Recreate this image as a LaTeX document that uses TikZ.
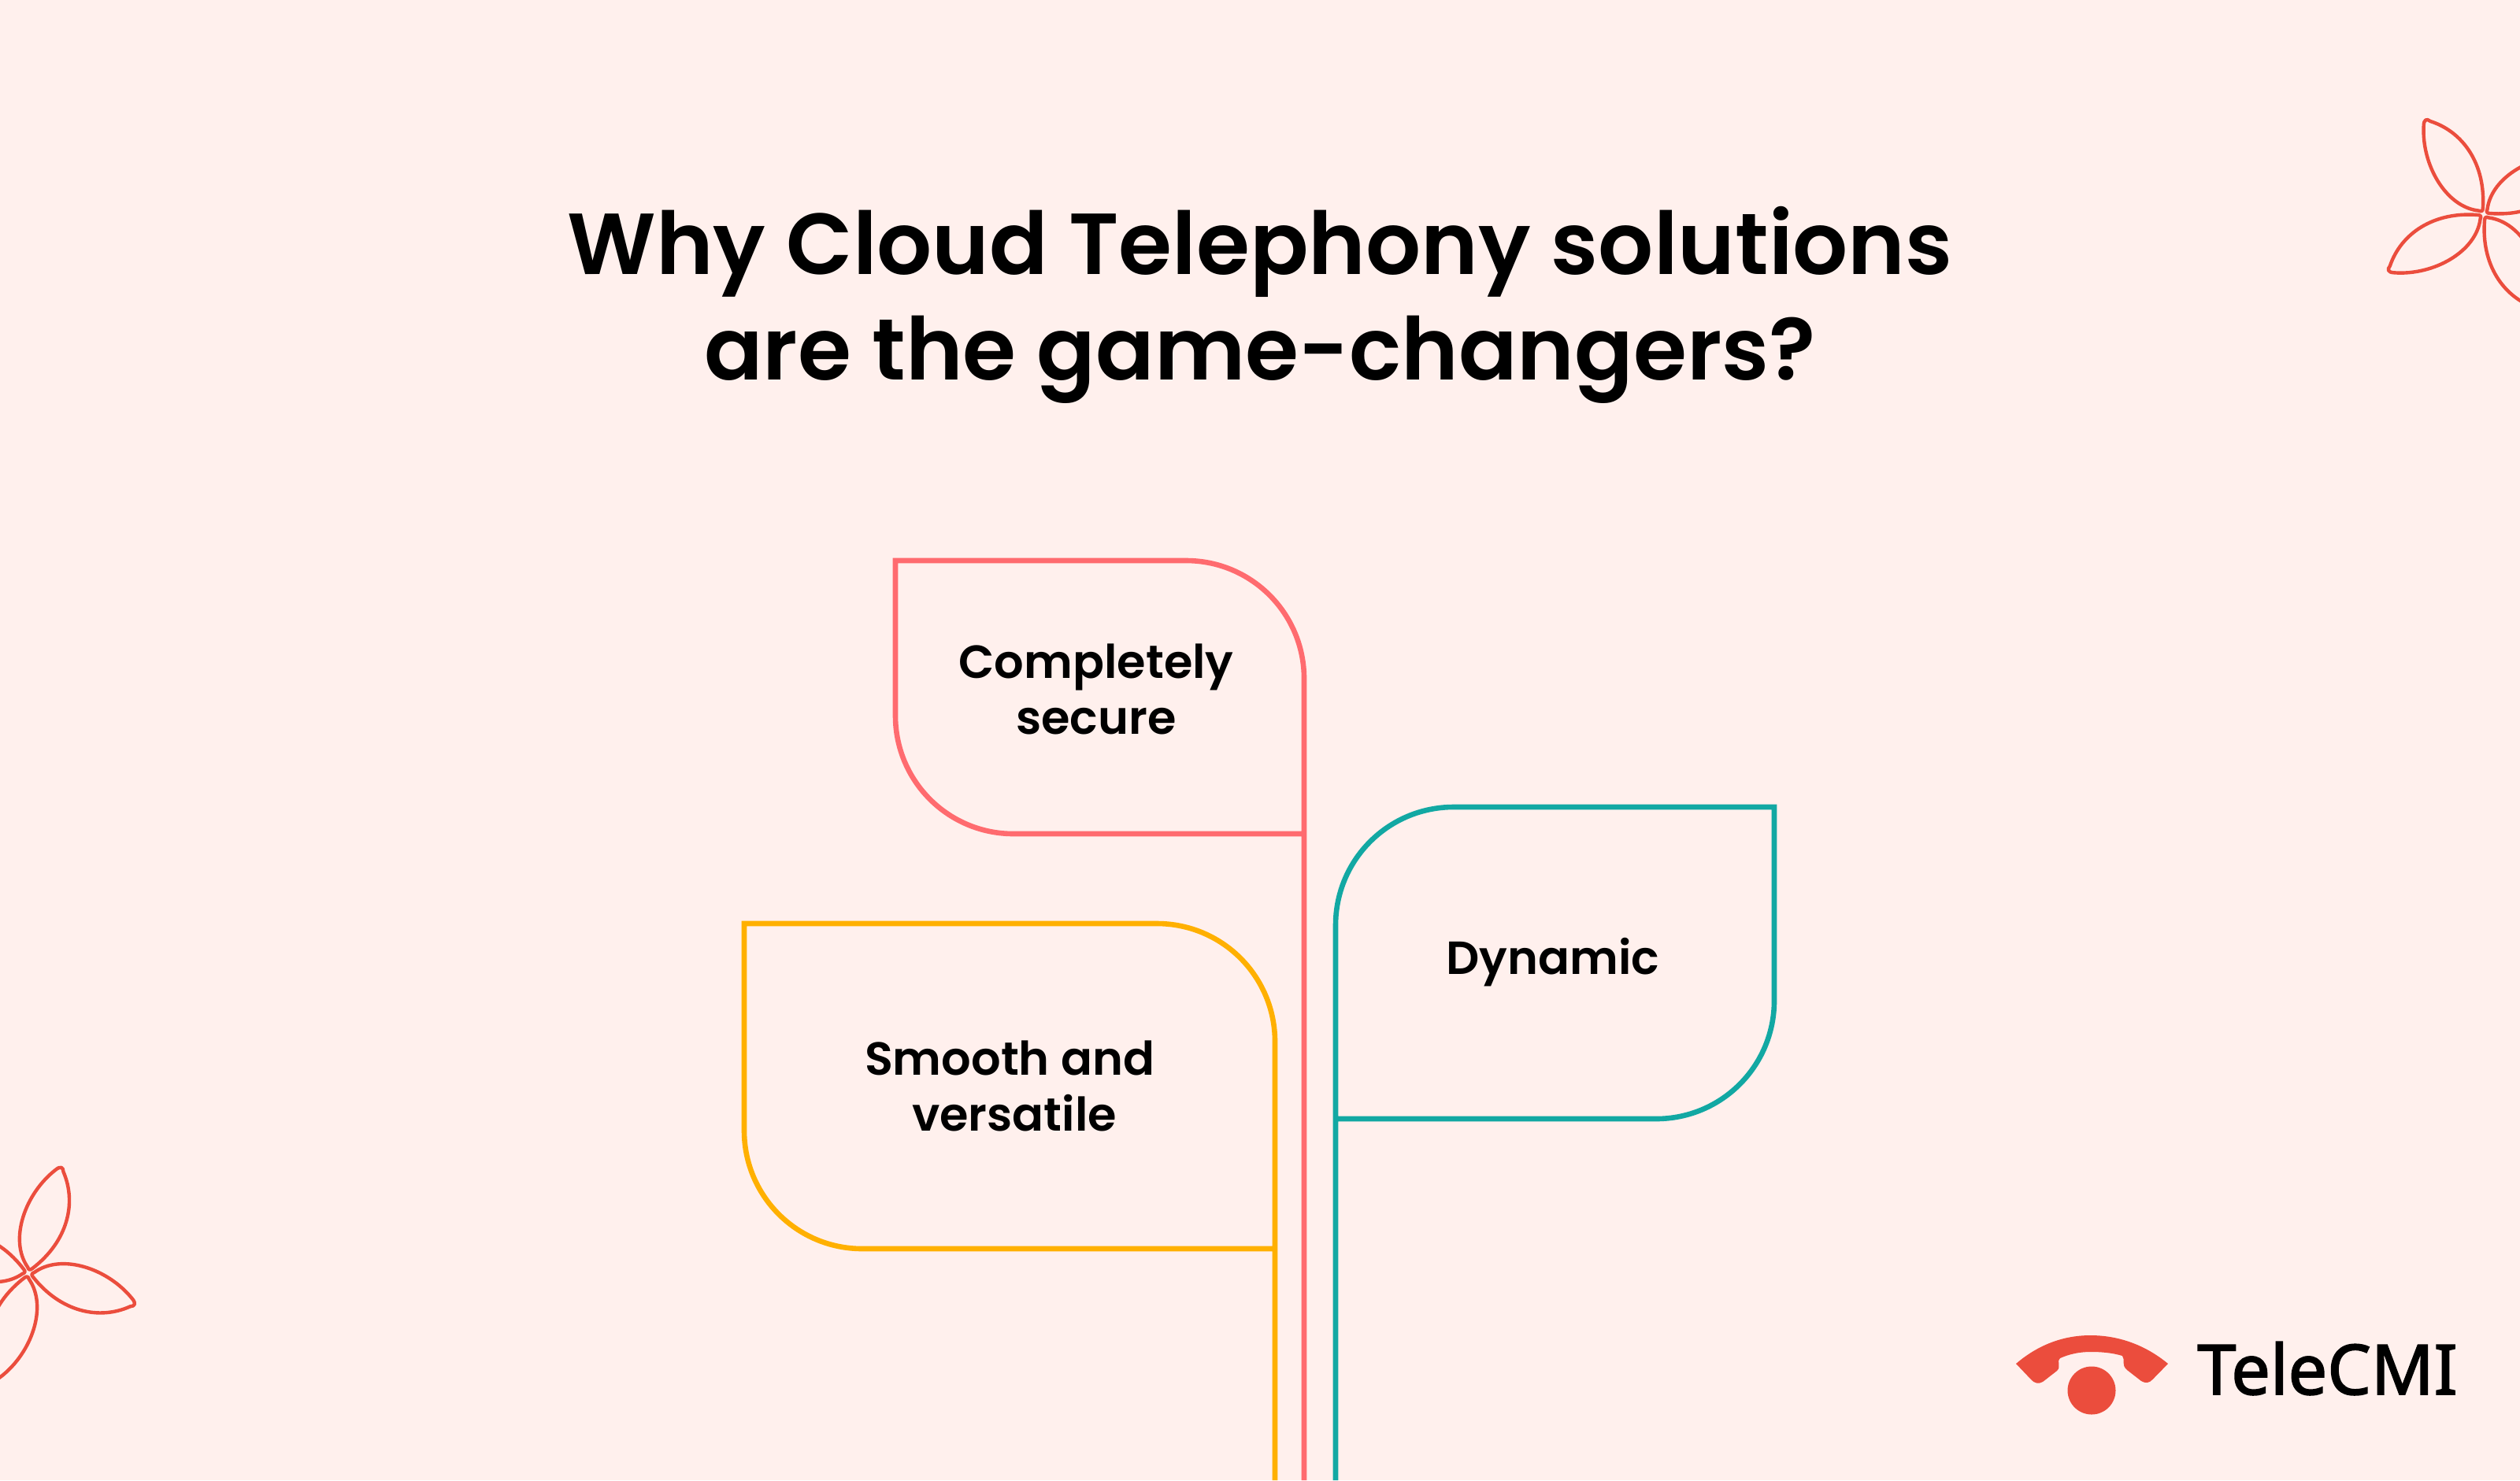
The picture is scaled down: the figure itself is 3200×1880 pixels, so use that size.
\documentclass[tikz,border=0pt]{standalone}
\usepackage{fontspec}
\setmainfont{Poppins}[BoldFont={Poppins SemiBold}]
\newfontfamily\logofont{Noto Sans}[FakeBold=2]
\definecolor{bgc}{HTML}{FFF0ED}
\definecolor{pinkc}{HTML}{FF6B6F}
\definecolor{tealc}{HTML}{12A8A3}
\definecolor{yellowc}{HTML}{FFB000}
\definecolor{redc}{HTML}{EB4D3D}
\tikzset{
  post/.style={line width=3.3pt,line join=miter},
  petalline/.style={draw=redc,line width=2.2pt,line join=round},
  titletext/.style={font=\fontsize{55}{67}\selectfont\bfseries,align=center,text=black,inner sep=0pt},
  labeltext/.style={font=\fontsize{29.5}{35.5}\selectfont\bfseries,align=center,text=black,inner sep=0pt},
}
\newcommand{\petalpath}{%
  \draw[petalline] (7,-3) .. controls (33,-36) and (95,-34) .. (136,-5)
     .. controls (142,-1) and (142,3) .. (136,5)
     .. controls (103,33) and (53,36) .. (7,3)
     .. controls (4,1) and (4,-1) .. (7,-3) -- cycle;}
\begin{document}
\begin{tikzpicture}[x=0.5pt,y=-0.5pt]
\useasboundingbox (0,0) rectangle (3200,1880);
\fill[bgc] (0,0) rectangle (3200,1880);
\clip (0,0) rectangle (3200,1880);

% flowers
\foreach \a in {122,211,301,31}{
  \begin{scope}[shift={(3154,272)},rotate=\a]\petalpath\end{scope}}
\foreach \a in {73,163,253,344}{
  \begin{scope}[shift={(36,1617)},rotate=\a]\petalpath\end{scope}}

\node[titletext] (title) at (1600,387) {Why Cloud Telephony solutions\\are the game-changers?};

% sign posts
\coordinate (pinkfoot) at (1656,1880);
\coordinate (tealfoot) at (1696,1880);
\coordinate (yellowfoot) at (1619,1880);
\draw[post,draw=yellowc] (yellowfoot) -- (1619,1323) .. controls (1619,1240) and (1552,1173) .. (1469,1173)
  -- (945,1173) -- (945,1436) .. controls (945,1519) and (1012,1586) .. (1095,1586) -- (1619,1586);
\draw[post,draw=tealc] (tealfoot) -- (1696,1175) .. controls (1696,1092) and (1763,1025) .. (1846,1025)
  -- (2253,1025) -- (2253,1271) .. controls (2253,1354) and (2186,1421) .. (2103,1421) -- (1696,1421);
\draw[post,draw=pinkc] (pinkfoot) -- (1656,862) .. controls (1656,779) and (1589,712) .. (1506,712)
  -- (1137,712) -- (1137,909) .. controls (1137,992) and (1204,1059) .. (1287,1059) -- (1656,1059);

\node[labeltext] (secure) at (1392,875) {Completely\\secure};
\node[labeltext] (dynamic) at (1972,1222) {Dynamic};
\node[labeltext] (smooth) at (1288,1379) {Smooth and\hspace*{6pt}\\versatile};

% logo
\fill[redc] (2560,1732) .. controls (2588,1708) and (2620,1696) .. (2654.5,1696)
  .. controls (2690,1696) and (2724,1708) .. (2753,1732)
  -- (2733.5,1752) .. controls (2729,1757) and (2724,1757) .. (2719,1754)
  -- (2701,1740) .. controls (2693,1733) and (2699,1727) .. (2695,1722)
  .. controls (2682,1718) and (2668,1717) .. (2654.5,1717)
  .. controls (2640,1717) and (2627,1720) .. (2616,1725)
  .. controls (2611,1730) and (2618,1735) .. (2612,1741)
  -- (2594,1755) .. controls (2589,1758) and (2583,1757) .. (2579,1752) -- cycle;
\node[circle,fill=redc,minimum size=30.5pt,inner sep=0pt] (logodot) at (2656,1766) {};
\node[inner sep=0pt,anchor=base west,font=\logofont\fontsize{44}{44}\selectfont] (logotext) at (2790,1771) {TeleCMI};
\end{tikzpicture}
\end{document}
